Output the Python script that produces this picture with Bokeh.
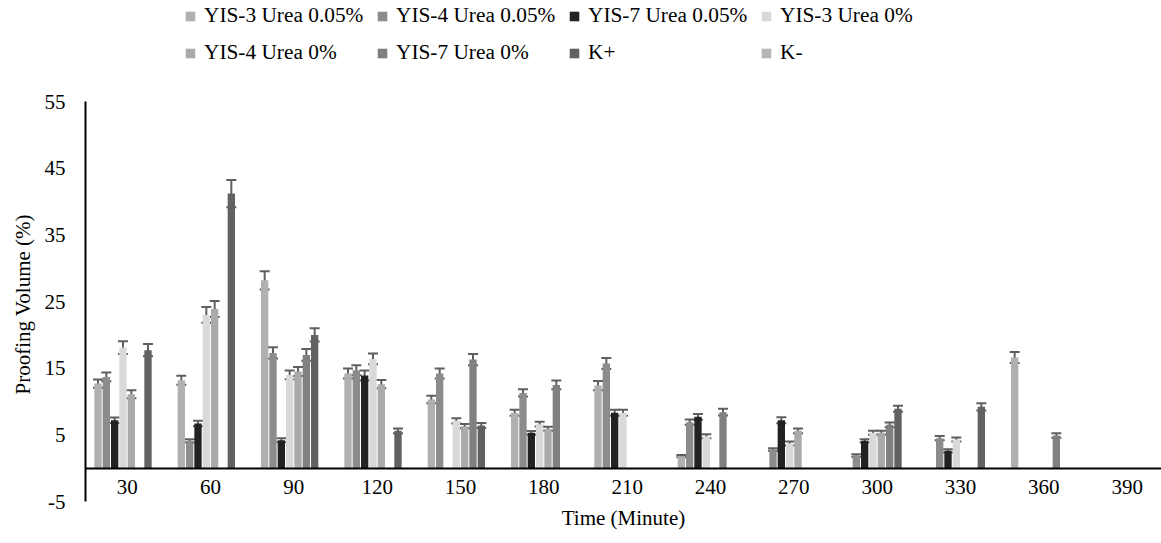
import numpy as np
from bokeh.plotting import figure
from bokeh.models import (ColumnDataSource, Range1d, FixedTicker, Whisker, TeeHead,
                          Legend, LegendItem, Title)
from bokeh.embed import file_html
from bokeh.resources import INLINE

times = ["30", "60", "90", "120", "150", "180", "210", "240", "270", "300", "330", "360", "390"]
series = ["YIS-3 Urea 0.05%", "YIS-4 Urea 0.05%", "YIS-7 Urea 0.05%", "YIS-3 Urea 0%",
          "YIS-4 Urea 0%", "YIS-7 Urea 0%", "K+", "K-"]
colors = ["#b0b0b0", "#8c8c8c", "#222222", "#d9d9d9", "#aaaaaa", "#808080", "#616161", "#b5b5b5"]

yis3_u005 = [12.7, 13.2, 28.2, 14.2, 10.3, 8.3, 12.4, 1.8, 0, 0, 0, 16.6, 0]
yis4_u005 = [13.7, 4.1, 17.3, 14.7, 14.2, 11.3, 15.7, 6.9, 2.8, 1.9, 4.5, 0, 0]
yis7_u005 = [7.2, 6.7, 4.2, 13.9, 0, 5.3, 8.3, 7.7, 7.2, 4.1, 2.6, 0, 0]
yis3_u0 = [18.1, 23.0, 14.0, 16.4, 7.1, 6.6, 8.3, 4.8, 3.7, 5.3, 4.3, 0, 0]
yis4_u0 = [11.1, 23.9, 14.5, 12.6, 6.3, 5.9, 0, 0, 5.6, 5.3, 0, 0, 0]
yis7_u0 = [0, 0, 17.0, 0, 16.3, 12.5, 0, 8.4, 0, 6.5, 0, 4.9, 0]
k_pos = [17.7, 41.2, 20.0, 5.6, 6.4, 0, 0, 0, 0, 8.9, 9.2, 0, 0]
k_neg = [0, 0, 0, 0, 0, 0, 0, 0, 0, 0, 0, 0, 0]

yis3_u005_err = [0.62, 0.67, 1.37, 0.75, 0.57, 0.45, 0.70, 0.17, 0, 0, 0, 0.82, 0]
yis4_u005_err = [0.67, 0.25, 0.85, 0.75, 0.75, 0.55, 0.82, 0.40, 0.20, 0.20, 0.32, 0, 0]
yis7_u005_err = [0.42, 0.42, 0.30, 0.75, 0, 0.27, 0.45, 0.42, 0.45, 0.25, 0.25, 0, 0]
yis3_u0_err = [0.95, 1.17, 0.67, 0.82, 0.40, 0.35, 0.45, 0.30, 0.30, 0.30, 0.30, 0, 0]
yis4_u0_err = [0.60, 1.20, 0.67, 0.62, 0.32, 0.30, 0, 0, 0.35, 0.30, 0, 0, 0]
yis7_u0_err = [0, 0, 0.87, 0, 0.85, 0.67, 0, 0.50, 0, 0.37, 0, 0.35, 0]
k_pos_err = [0.92, 2.05, 1.00, 0.35, 0.37, 0, 0, 0, 0, 0.45, 0.55, 0, 0]
k_neg_err = [0, 0, 0, 0, 0, 0, 0, 0, 0, 0, 0, 0, 0]

y_ticks = [-5, 5, 15, 25, 35, 45, 55]
y_tick_labels = ["-5", "5", "15", "25", "35", "45", "55"]

values = [yis3_u005, yis4_u005, yis7_u005, yis3_u0, yis4_u0, yis7_u0, k_pos, k_neg]
errors = [yis3_u005_err, yis4_u005_err, yis7_u005_err, yis3_u0_err, yis4_u0_err,
          yis7_u0_err, k_pos_err, k_neg_err]

FONT = "Liberation Serif"
FS = "21px"
n_series = len(series)
step = 0.1
bar_w = 0.088
centers = np.arange(len(times)) + 0.5

# frame spans the whole height above the x title; the legend sits in its empty top part
p = figure(width=1161, height=543, x_range=Range1d(0, 12.912), y_range=Range1d(-5, 70.18),
           output_backend="svg", toolbar_location=None,
           min_border_left=85, min_border_right=0, min_border_top=0, min_border_bottom=42)
p.title.visible = False
p.outline_line_color = None
p.xgrid.visible = False
p.ygrid.visible = False
p.background_fill_color = "white"
p.border_fill_color = "white"

items = []
for j in range(n_series):
    xs = centers + (j - (n_series - 1) / 2) * step
    v = np.array(values[j], dtype=float)
    e = np.array(errors[j], dtype=float)
    src = ColumnDataSource(dict(x=xs, top=v))
    r = p.vbar(x="x", top="top", bottom=0, width=bar_w, source=src,
               fill_color=colors[j], line_color=None)
    items.append(LegendItem(label=series[j], renderers=[r]))
    mask = (v > 0) & (e > 0)
    if mask.any():
        esrc = ColumnDataSource(dict(x=xs[mask], lo=(v - e)[mask], hi=(v + e)[mask]))
        w = Whisker(base="x", lower="lo", upper="hi", source=esrc, dimension="height",
                    line_color="#5f5f5f", line_width=2,
                    upper_head=TeeHead(size=10, line_color="#5f5f5f", line_width=2),
                    lower_head=TeeHead(size=10, line_color="#5f5f5f", line_width=2))
        p.add_layout(w)

# y axis (line limited to -5..55)
yax = p.yaxis[0]
yax.bounds = (-5, 55)
yax.ticker = FixedTicker(ticks=y_ticks)
yax.major_label_overrides = {t: s for t, s in zip(y_ticks, y_tick_labels)}
yax.major_label_text_font = FONT
yax.major_label_text_font_size = FS
yax.major_label_text_color = "black"
yax.major_label_standoff = 14
yax.major_tick_line_color = None
yax.minor_tick_line_color = None
yax.axis_line_color = "black"
yax.axis_line_width = 2

# y title, placed along the -5..55 part of the axis
ytitle = Title(text="Proofing Volume (%)", align="left", vertical_align="bottom",
               offset=107, standoff=14, text_font=FONT, text_font_size=FS,
               text_font_style="normal", text_color="black")
p.add_layout(ytitle, "left")

# x axis drawn at y = 0
xax = p.xaxis[0]
xax.fixed_location = 0
xax.ticker = FixedTicker(ticks=list(centers))
xax.major_label_overrides = {float(c): t for c, t in zip(centers, times)}
xax.major_label_text_font = FONT
xax.major_label_text_font_size = FS
xax.major_label_text_color = "black"
xax.major_label_standoff = 6
xax.major_tick_line_color = None
xax.minor_tick_line_color = None
xax.axis_line_color = "black"
xax.axis_line_width = 2

xtitle = Title(text="Time (Minute)", align="center", text_font=FONT, text_font_size=FS,
               text_font_style="normal", text_color="black", standoff=5)
p.add_layout(xtitle, "below")

legend = Legend(items=items, orientation="horizontal", ncols=4,
                location=(99, 436), padding=0, margin=0, spacing=12,
                glyph_width=12, glyph_height=12, label_standoff=8, label_width=160,
                label_text_font=FONT, label_text_font_size="16pt", label_text_color="black",
                border_line_color=None, background_fill_alpha=0)
p.add_layout(legend, "center")

open("out.html", "w").write(file_html(p, INLINE))
